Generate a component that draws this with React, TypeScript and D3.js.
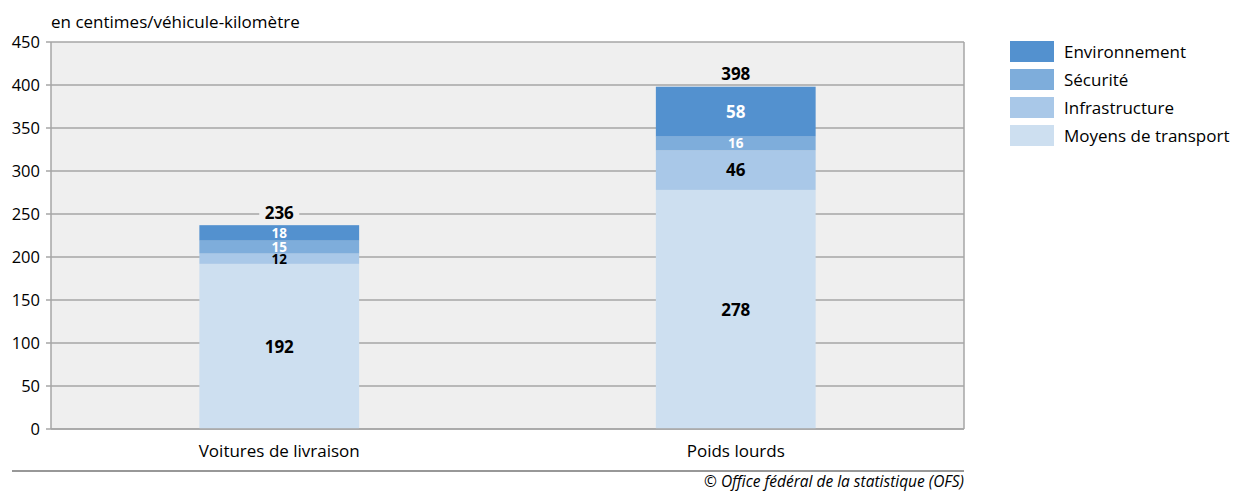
import React from "react";
import * as d3 from "d3";

const categories = ["Voitures de livraison", "Poids lourds"];
const seriesNames = ["Moyens de transport", "Infrastructure", "Sécurité", "Environnement"];
const moyens = [192, 278];
const infrastructure = [12, 46];
const securite = [15, 16];
const environnement = [18, 58];
const totals = [236, 398];
const yTicks = [0, 50, 100, 150, 200, 250, 300, 350, 400, 450];
const colors = ["#cddff0", "#a9c8e8", "#7eaddb", "#5391cf"];
const labelColors = ["#000", "#000", "#fff", "#fff"];

const W = 1233, H = 493;
const left = 51, right = 964, top = 42, bottom = 429;
const FONT = "'Open Sans', 'Noto Sans', sans-serif";

export default function App() {
  const series = [moyens, infrastructure, securite, environnement];
  const x = d3.scaleBand<string>().domain(categories).range([left, right]).paddingInner(0.65).paddingOuter(0.325);
  const y = d3.scaleLinear().domain([0, 450]).range([bottom, top]);
  const table = categories.map((c, i) => {
    const row: any = { cat: c };
    seriesNames.forEach((s, k) => (row[s] = series[k][i]));
    return row;
  });
  const stacked = d3.stack<any>().keys(seriesNames)(table);
  const grid = "#a6a6a6";

  return (
    <div style={{ position: "absolute", left: 0, top: 0 }}>
      <svg width={W} height={H} style={{ display: "block", fontFamily: FONT }}>
        <rect x={left} y={top} width={right - left} height={bottom - top} fill="#efefef" />
        {yTicks.map((t) => (
          <g key={t}>
            <line x1={left - 5} x2={right} y1={y(t)} y2={y(t)} stroke={grid} strokeWidth={1.5} />
            <text x={40} y={y(t)} dy="0.35em" textAnchor="end" fontSize={16.5} fill="#000">{t}</text>
          </g>
        ))}
        <line x1={left} x2={left} y1={top} y2={bottom} stroke={grid} strokeWidth={1.5} />
        <line x1={right} x2={right} y1={top} y2={bottom} stroke={grid} strokeWidth={1.5} />
        {stacked.map((layer, k) =>
          layer.map((d, i) => {
            const x0 = x(categories[i])!;
            const y0 = y(d[1]);
            const h = y(d[0]) - y(d[1]);
            const fs = h < 20 ? 13.5 : 17;
            return (
              <g key={k + "-" + i}>
                <rect x={x0} y={y0} width={x.bandwidth()} height={h} fill={colors[k]} />
                <text
                  x={x0 + x.bandwidth() / 2}
                  y={y0 + h / 2}
                  dy="0.36em"
                  textAnchor="middle"
                  fontSize={fs}
                  fontWeight="bold"
                  fill={labelColors[k]}
                >
                  {series[k][i]}
                </text>
              </g>
            );
          })
        )}
        <line x1={left} x2={right} y1={bottom} y2={bottom} stroke={grid} strokeWidth={1.5} />
        {categories.map((c, i) => {
          const cx = x(c)! + x.bandwidth() / 2;
          const ty = y(totals[i]) - 13;
          return (
            <g key={c}>
              <rect x={cx - 20} y={ty - 10} width={40} height={20} fill="#efefef" />
              <text x={cx} y={ty} dy="0.36em" textAnchor="middle" fontSize={17} fontWeight="bold" fill="#000">{totals[i]}</text>
              <text x={cx} y={451} dy="0.36em" textAnchor="middle" fontSize={17} fill="#000">{c}</text>
            </g>
          );
        })}
        <text x={51} y={28} fontSize={17} fill="#000">en centimes/véhicule-kilomètre</text>
        {seriesNames.slice().reverse().map((s, j) => {
          const k = seriesNames.length - 1 - j;
          const yy = 41 + j * 28;
          return (
            <g key={s}>
              <rect x={1010} y={yy} width={44} height={21} fill={colors[k]} />
              <text x={1064} y={yy + 10.5} dy="0.36em" fontSize={17} fill="#000">{s}</text>
            </g>
          );
        })}
        <line x1={12} x2={right} y1={471} y2={471} stroke="#333" strokeWidth={1.2} />
        <text x={right} y={487} textAnchor="end" fontSize={15.5} fontStyle="italic" fill="#000">© Office fédéral de la statistique (OFS)</text>
      </svg>
    </div>
  );
}
